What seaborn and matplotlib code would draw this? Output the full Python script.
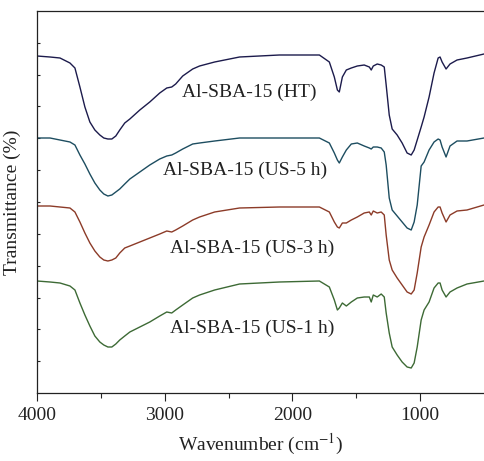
import numpy as np
import pandas as pd
import matplotlib
matplotlib.use("Agg")
import matplotlib.pyplot as plt
import seaborn as sns

# ---- data (transmittance in arbitrary, offset units) ----
wavenumber = [4000, 3898, 3820, 3742, 3703, 3664, 3625, 3586, 3547, 3508,
              3477, 3445, 3414, 3383, 3352, 3313, 3273, 3195, 3117, 3039,
              2984, 2945, 2914, 2859, 2781, 2727, 2609, 2414, 2102, 1789,
              1711, 1672, 1648, 1633, 1609, 1578, 1539, 1492, 1438, 1398,
              1383, 1367, 1336, 1305, 1281, 1266, 1242, 1219, 1180, 1141,
              1102, 1070, 1047, 1023, 992, 969, 930, 891, 859, 844,
              828, 797, 766, 711, 633, 500]

t_ht = [337, 336, 335, 330, 325, 306, 286, 271, 263, 258,
        255, 254, 254, 257, 263, 270, 274, 283, 291, 300,
        305, 306, 309, 317, 324, 327, 331, 336, 338, 338,
        331, 316, 303, 301, 316, 323, 325, 327, 328, 326,
        323, 327, 329, 328, 326, 308, 278, 264, 258, 250,
        240, 238, 243, 253, 266, 276, 296, 320, 335, 336,
        331, 324, 329, 333, 335, 339]

t_us5 = [255, 255, 253, 251, 248, 238, 229, 219, 210, 203,
         199, 197, 198, 201, 204, 209, 214, 221, 228, 234,
         237, 238, 240, 244, 249, 250, 252, 255, 255, 255,
         250, 240, 233, 230, 236, 243, 249, 250, 247, 245,
         244, 246, 246, 245, 241, 228, 195, 183, 177, 171,
         165, 163, 171, 188, 227, 231, 243, 251, 254, 253,
         246, 236, 247, 252, 252, 255]

t_us3 = [187, 187, 186, 185, 181, 171, 160, 150, 142, 136,
         133, 132, 133, 135, 140, 145, 147, 151, 155, 159,
         162, 161, 163, 167, 173, 176, 181, 185, 186, 186,
         181, 171, 166, 165, 170, 170, 173, 176, 180, 181,
         178, 182, 180, 181, 178, 158, 133, 123, 115, 108,
         101, 99, 103, 120, 146, 156, 168, 181, 186, 186,
         180, 171, 178, 182, 183, 188]

t_us1 = [112, 111, 110, 107, 103, 90, 78, 67, 57, 51,
         48, 46, 46, 49, 53, 57, 61, 66, 71, 77,
         81, 80, 83, 88, 95, 98, 103, 109, 111, 112,
         106, 93, 83, 85, 90, 87, 91, 95, 96, 96,
         91, 98, 96, 99, 96, 80, 60, 46, 38, 31,
         26, 25, 30, 46, 73, 83, 91, 105, 110, 110,
         103, 96, 101, 105, 109, 112]

samples = ["Al-SBA-15 (HT)", "Al-SBA-15 (US-5 h)", "Al-SBA-15 (US-3 h)", "Al-SBA-15 (US-1 h)"]
colors = ["#1c1b4c", "#1d4d60", "#8c3b28", "#3d6a35"]
label_x = [2867, 3015, 2960, 2960]
label_y = [296, 218, 140, 60]

# ---- figure ----
sns.set_style("ticks")
plt.rcParams["font.family"] = ["Liberation Serif", "DejaVu Serif"]
plt.rcParams["mathtext.fontset"] = "stix"

df = pd.concat([
    pd.DataFrame({"Wavenumber": wavenumber, "T": vals, "Sample": name})
    for name, vals in zip(samples, [t_ht, t_us5, t_us3, t_us1])
])

fig = plt.figure(figsize=(4.84, 4.61), dpi=100)
ax = fig.add_axes([37 / 484, 68 / 461, 1 - 37 / 484, 382 / 461])

sns.lineplot(data=df, x="Wavenumber", y="T", hue="Sample", palette=colors,
             estimator=None, linewidth=1.0, legend=False, ax=ax)
for ln in ax.get_lines():
    ln.set_solid_joinstyle("round")

for name, x, y in zip(samples, label_x, label_y):
    ax.text(x, y, name, fontsize=14, color="#222222", ha="left", va="baseline")

ax.set_xlim(4000, 500)
ax.set_ylim(0, 382)
ax.set_xticks([4000, 3000, 2000, 1000])
ax.set_xticks([3500, 2500, 1500], minor=True)
ax.set_yticks(np.linspace(0, 382, 13)[1:-1])
ax.set_yticklabels([])
ax.tick_params(axis="x", which="major", direction="out", length=6, width=0.8,
               labelsize=14, colors="#222222", pad=4)
ax.tick_params(axis="x", which="minor", direction="out", length=3.5, width=0.8)
ax.tick_params(axis="y", direction="in", length=2.5, width=0.8)

for side in ["left", "bottom", "top"]:
    ax.spines[side].set_visible(True)
    ax.spines[side].set_linewidth(0.9)
    ax.spines[side].set_color("#222222")
ax.spines["right"].set_visible(False)

ax.set_xlabel(r"Wavenumber (cm$^{-1}$)", fontsize=14, color="#222222", labelpad=6)
ax.set_ylabel("Transmittance (%)", fontsize=14, color="#222222", labelpad=8)

fig.savefig("out.png", dpi=100)
